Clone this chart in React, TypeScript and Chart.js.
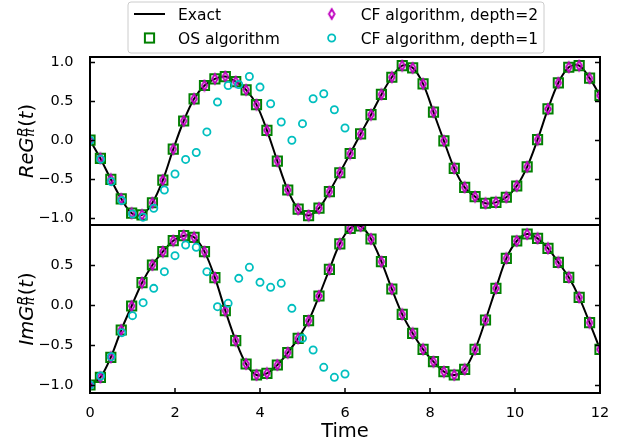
import React, { useEffect, useRef } from 'react';
import { Chart, registerables } from 'chart.js';

Chart.register(...registerables);

// ---- data ----
const tFull = [
  0.0, 0.245, 0.49, 0.735, 0.98, 1.224, 1.469, 1.714, 1.959, 2.204,
  2.449, 2.694, 2.939, 3.184, 3.429, 3.673, 3.918, 4.163, 4.408, 4.653,
  4.898, 5.143, 5.388, 5.633, 5.878, 6.122, 6.367, 6.612, 6.857, 7.102,
  7.347, 7.592, 7.837, 8.082, 8.327, 8.571, 8.816, 9.061, 9.306, 9.551,
  9.796, 10.041, 10.286, 10.531, 10.776, 11.02, 11.265, 11.51, 11.755, 12.0,
];
const tShort = [
  0.0, 0.25, 0.5, 0.75, 1.0, 1.25, 1.5, 1.75, 2.0, 2.25, 2.5, 2.75, 3.0,
  3.25, 3.5, 3.75, 4.0, 4.25, 4.5, 4.75, 5.0, 5.25, 5.5, 5.75, 6.0,
];

const osRe = [
  0.0, -0.233, -0.5, -0.75, -0.934, -0.955, -0.8, -0.51, -0.115, 0.246,
  0.53, 0.7, 0.786, 0.815, 0.75, 0.645, 0.455, 0.127, -0.267, -0.637,
  -0.883, -0.964, -0.87, -0.658, -0.416, -0.17, 0.08, 0.327, 0.586, 0.806,
  0.955, 0.926, 0.722, 0.36, -0.008, -0.36, -0.603, -0.722, -0.807, -0.795,
  -0.73, -0.586, -0.34, 0.008, 0.4, 0.735, 0.934, 0.955, 0.794, 0.573,
];
const osIm = [
  -1.0, -0.904, -0.654, -0.3125, -0.0125, 0.279, 0.5, 0.667, 0.804, 0.867,
  0.846, 0.667, 0.342, -0.071, -0.446, -0.7375, -0.875, -0.854, -0.75, -0.596,
  -0.417, -0.196, 0.1125, 0.446, 0.765, 0.958, 0.9875, 0.825, 0.542, 0.2,
  -0.117, -0.354, -0.554, -0.708, -0.833, -0.875, -0.804, -0.554, -0.1875, 0.208,
  0.583, 0.8, 0.8875, 0.833, 0.708, 0.533, 0.346, 0.096, -0.221, -0.554,
];
// exact curve and depth-2 continued fraction coincide with OS points in the picture
const exactRe = osRe;
const exactIm = osIm;
const cf2Re = osRe;
const cf2Im = osIm;

const cf1Re = [
  0.0, -0.242, -0.53, -0.773, -0.943, -0.985, -0.87, -0.637, -0.433, -0.246,
  -0.157, 0.106, 0.488, 0.7, 0.713, 0.815, 0.68, 0.467, 0.233, 0.0,
  0.212, 0.53, 0.595, 0.39, 0.157,
];
const cf1Im = [
  -1.0, -0.8875, -0.646, -0.346, -0.133, 0.029, 0.208, 0.417, 0.617, 0.75,
  0.721, 0.417, -0.021, 0.021, 0.333, 0.471, 0.283, 0.221, 0.271, -0.042,
  -0.417, -0.5625, -0.779, -0.904, -0.8625,
];

const xTicks = [0, 2, 4, 6, 8, 10, 12];
const reTicks = [-1.0, -0.5, 0.0, 0.5, 1.0];
const imTicks = [-1.0, -0.5, 0.0, 0.5];
const legendLabels = ['Exact', 'OS algorithm', 'CF algorithm, depth=2', 'CF algorithm, depth=1'];
const xTitle = 'Time';

// ---- styles ----
const FONT = '"DejaVu Sans", sans-serif';
const GREEN = '#008000';
const MAGENTA = '#bf00bf';
const CYAN = '#00bfbf';
const TICK_FS = 14.5;
const LABEL_FS = 19.5;
const LEGEND_FS = 15.5;

function pts(xs: number[], ys: number[]) {
  return ys.map((y, i) => ({ x: xs[i], y }));
}

function makeThinDiamond(): HTMLCanvasElement {
  const c = document.createElement('canvas');
  c.width = 10;
  c.height = 14;
  const g = c.getContext('2d')!;
  g.strokeStyle = MAGENTA;
  g.lineWidth = 1.9;
  g.beginPath();
  g.moveTo(5, 2.2);
  g.lineTo(7.8, 7);
  g.lineTo(5, 11.8);
  g.lineTo(2.2, 7);
  g.closePath();
  g.stroke();
  return c;
}

function drawSquare(ctx: CanvasRenderingContext2D, x: number, y: number) {
  ctx.save();
  ctx.strokeStyle = GREEN;
  ctx.lineWidth = 2;
  ctx.strokeRect(x - 4.6, y - 4.6, 9.2, 9.2);
  ctx.restore();
}
function drawCircle(ctx: CanvasRenderingContext2D, x: number, y: number) {
  ctx.save();
  ctx.strokeStyle = CYAN;
  ctx.lineWidth = 1.8;
  ctx.beginPath();
  ctx.arc(x, y, 3.6, 0, Math.PI * 2);
  ctx.stroke();
  ctx.restore();
}

function drawYLabel(ctx: CanvasRenderingContext2D, prefix: string, cx: number, cy: number) {
  const fs = LABEL_FS;
  const fsS = fs * 0.7;
  const fItal = `italic ${fs}px ${FONT}`;
  const fSmall = `italic ${fsS}px ${FONT}`;
  const fUp = `${fs}px ${FONT}`;
  ctx.save();
  ctx.font = fItal;
  const w1 = ctx.measureText(prefix + 'G').width;
  const wt = ctx.measureText('t').width;
  ctx.font = fSmall;
  const ws = Math.max(ctx.measureText('R').width, ctx.measureText('π').width);
  ctx.font = fUp;
  const wo = ctx.measureText('(').width;
  const wc = ctx.measureText(')').width;
  const total = w1 + ws + 1 + wo + wt + wc;
  ctx.translate(cx, cy);
  ctx.rotate(-Math.PI / 2);
  ctx.fillStyle = '#000';
  ctx.textBaseline = 'alphabetic';
  ctx.textAlign = 'left';
  let x = -total / 2;
  ctx.font = fItal;
  ctx.fillText(prefix + 'G', x, 0);
  x += w1 + 0.5;
  ctx.font = fSmall;
  ctx.fillText('R', x, -fs * 0.3);
  ctx.fillText('π', x, fs * 0.05);
  x += ws + 0.5;
  ctx.font = fUp;
  ctx.fillText('(', x, 0);
  x += wo;
  ctx.font = fItal;
  ctx.fillText('t', x, 0);
  x += wt;
  ctx.font = fUp;
  ctx.fillText(')', x, 0);
  ctx.restore();
}

let diamondImg: HTMLCanvasElement;

const framePlugin = {
  id: 'frameAndLabels',
  afterDraw(chart: any) {
    const ctx: CanvasRenderingContext2D = chart.ctx;
    const xs = chart.scales.x;
    const panels = [
      { s: chart.scales.yRe, ticks: reTicks, label: 'Re' },
      { s: chart.scales.yIm, ticks: imTicks, label: 'Im' },
    ];
    const left = xs.left;
    const right = xs.right;
    ctx.save();
    ctx.strokeStyle = '#000';
    ctx.lineWidth = 1.5;
    ctx.beginPath();
    for (const p of panels) {
      for (const v of p.ticks) {
        const y = Math.round(p.s.getPixelForValue(v)) + 0.5;
        ctx.moveTo(left, y);
        ctx.lineTo(left + 5, y);
        ctx.moveTo(right, y);
        ctx.lineTo(right - 5, y);
      }
    }
    const bottom = Math.max(chart.scales.yIm.bottom, chart.scales.yRe.bottom);
    for (const v of xTicks) {
      const x = xs.getPixelForValue(v);
      ctx.moveTo(x, bottom);
      ctx.lineTo(x, bottom - 5);
    }
    ctx.stroke();
    ctx.lineWidth = 2;
    for (const p of panels) {
      ctx.strokeRect(left, p.s.top, right - left, p.s.bottom - p.s.top);
    }
    ctx.restore();

    // y axis titles
    for (const p of panels) {
      drawYLabel(ctx, p.label, 33, (p.s.top + p.s.bottom) / 2);
    }
    // x axis title
    ctx.save();
    ctx.font = `${LABEL_FS}px ${FONT}`;
    ctx.fillStyle = '#000';
    ctx.textAlign = 'center';
    ctx.textBaseline = 'alphabetic';
    ctx.fillText(xTitle, (left + right) / 2, 436.5);
    ctx.restore();

    // legend
    ctx.save();
    const bx = 128, by = 2, bw = 416, bh = 51, r = 3;
    ctx.beginPath();
    ctx.moveTo(bx + r, by);
    ctx.lineTo(bx + bw - r, by);
    ctx.quadraticCurveTo(bx + bw, by, bx + bw, by + r);
    ctx.lineTo(bx + bw, by + bh - r);
    ctx.quadraticCurveTo(bx + bw, by + bh, bx + bw - r, by + bh);
    ctx.lineTo(bx + r, by + bh);
    ctx.quadraticCurveTo(bx, by + bh, bx, by + bh - r);
    ctx.lineTo(bx, by + r);
    ctx.quadraticCurveTo(bx, by, bx + r, by);
    ctx.closePath();
    ctx.fillStyle = 'rgba(255,255,255,0.8)';
    ctx.fill();
    ctx.strokeStyle = '#cccccc';
    ctx.lineWidth = 1;
    ctx.stroke();

    const col1 = 149.5, col2 = 331.7;
    const row1 = 14, row2 = 38;
    ctx.strokeStyle = '#000';
    ctx.lineWidth = 2;
    ctx.beginPath();
    ctx.moveTo(col1 - 15.5, row1);
    ctx.lineTo(col1 + 15.5, row1);
    ctx.stroke();
    drawSquare(ctx, col1, row2);
    ctx.drawImage(diamondImg, col2 - diamondImg.width / 2, row1 - diamondImg.height / 2);
    drawCircle(ctx, col2, row2);

    ctx.font = `${LEGEND_FS}px ${FONT}`;
    ctx.fillStyle = '#000';
    ctx.textAlign = 'left';
    ctx.textBaseline = 'alphabetic';
    ctx.fillText(legendLabels[0], 178, 20.3);
    ctx.fillText(legendLabels[1], 178, 44.2);
    ctx.fillText(legendLabels[2], 360.7, 20.3);
    ctx.fillText(legendLabels[3], 360.7, 44.2);
    ctx.restore();
  },
};

function fmtY(v: any) {
  return Number(v).toFixed(1).replace('-', '\u2212');
}

export default function App() {
  const ref = useRef<HTMLCanvasElement>(null);
  useEffect(() => {
    if (!ref.current) return;
    diamondImg = makeThinDiamond();
    const lineDs = (data: any, axis: string) => ({
      data,
      yAxisID: axis,
      showLine: true,
      borderColor: '#000',
      borderWidth: 2,
      pointRadius: 0,
      tension: 0.35,
      fill: false,
      order: 4,
      clip: 0,
    });
    const squareDs = (data: any, axis: string) => ({
      data,
      yAxisID: axis,
      showLine: false,
      pointStyle: 'rect',
      pointRadius: 6.5,
      pointBorderWidth: 2,
      pointBorderColor: GREEN,
      pointBackgroundColor: 'rgba(0,0,0,0)',
      order: 3,
      clip: 0,
    });
    const diamondDs = (data: any, axis: string) => ({
      data,
      yAxisID: axis,
      showLine: false,
      pointStyle: diamondImg,
      pointRadius: 5,
      order: 2,
      clip: 0,
    });
    const circleDs = (data: any, axis: string) => ({
      data,
      yAxisID: axis,
      showLine: false,
      pointStyle: 'circle',
      pointRadius: 3.6,
      pointBorderWidth: 1.8,
      pointBorderColor: CYAN,
      pointBackgroundColor: 'rgba(0,0,0,0)',
      order: 1,
      clip: 0,
    });
    const tickFont = { family: FONT, size: TICK_FS };
    const yScale = (min: number, max: number, ticks: number[], weight: number) => ({
      type: 'linear',
      position: 'left',
      stack: 'panels',
      stackWeight: 1,
      weight,
      min,
      max,
      grid: { display: false },
      border: { display: false },
      ticks: { color: '#000', font: tickFont, padding: 8.5, autoSkip: false, callback: fmtY },
      afterBuildTicks: (s: any) => {
        s.ticks = ticks.map((v) => ({ value: v }));
      },
      afterFit: (s: any) => {
        s.width = 90;
      },
    });
    const chart = new Chart(ref.current, {
      type: 'line',
      data: {
        datasets: [
          lineDs(pts(tFull, exactRe), 'yRe'),
          squareDs(pts(tFull, osRe), 'yRe'),
          diamondDs(pts(tFull, cf2Re), 'yRe'),
          circleDs(pts(tShort, cf1Re), 'yRe'),
          lineDs(pts(tFull, exactIm), 'yIm'),
          squareDs(pts(tFull, osIm), 'yIm'),
          diamondDs(pts(tFull, cf2Im), 'yIm'),
          circleDs(pts(tShort, cf1Im), 'yIm'),
        ] as any,
      },
      options: {
        responsive: false,
        animation: false,
        events: [],
        layout: { padding: { left: 0, right: 32, top: 57, bottom: 0 } },
        plugins: { legend: { display: false }, tooltip: { enabled: false } },
        scales: {
          x: {
            type: 'linear',
            position: 'bottom',
            min: 0,
            max: 12,
            grid: { display: false },
            border: { display: false },
            ticks: { color: '#000', font: tickFont, padding: 4, autoSkip: false, maxRotation: 0 },
            afterBuildTicks: (s: any) => {
              s.ticks = xTicks.map((v) => ({ value: v }));
            },
            afterFit: (s: any) => {
              s.height = 52;
            },
          },
          yRe: yScale(-1.085, 1.065, reTicks, 2),
          yIm: yScale(-1.1, 1.0, imTicks, 1),
        } as any,
      },
      plugins: [framePlugin],
    });
    return () => chart.destroy();
  }, []);
  return (
    <div style={{ position: 'fixed', left: 0, top: 0, width: 632, height: 445, background: '#fff' }}>
      <canvas ref={ref} width={632} height={445} style={{ display: 'block' }} />
    </div>
  );
}
